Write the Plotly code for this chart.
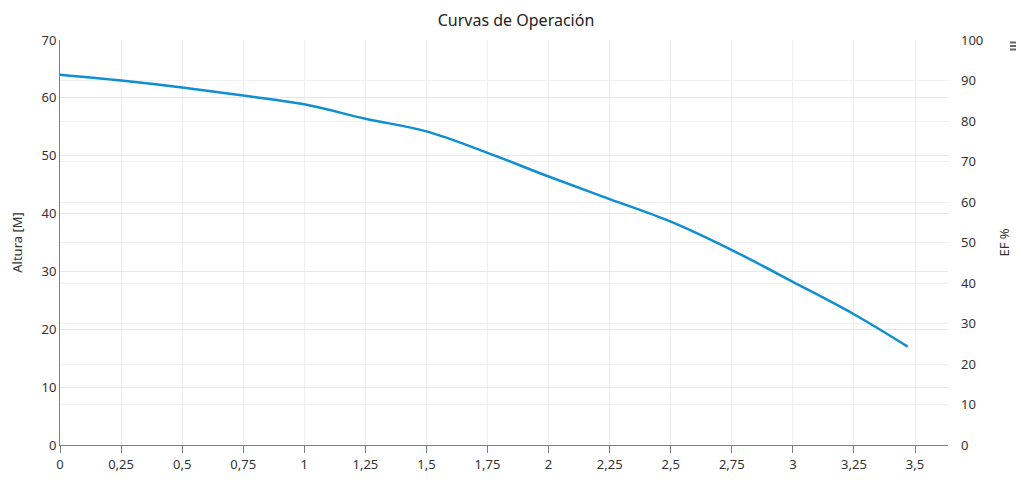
import plotly.graph_objects as go

flow = [0, 0.25, 0.5, 0.75, 1.0, 1.25, 1.5, 1.75, 2.0, 2.25, 2.5, 2.75, 3.0, 3.25, 3.47]
head = [64.0, 63.0, 61.8, 60.4, 58.9, 56.4, 54.2, 50.5, 46.4, 42.5, 38.6, 33.7, 28.2, 22.6, 17.0]

FONT = "Noto Sans, Open Sans, sans-serif"

fig = go.Figure()
fig.add_trace(go.Scatter(x=flow, y=head, mode="lines", line=dict(color="#0f8fd3", width=2.5, shape="spline", smoothing=1.0),
                         showlegend=False, hoverinfo="x+y"))
fig.add_trace(go.Scatter(x=[None], y=[None], yaxis="y2", mode="lines", showlegend=False, hoverinfo="skip"))

# export-menu icon (three short bars), positioned in pixels from the plot's top-right corner
menu_shapes = [
    dict(type="line", xref="paper", yref="paper", xsizemode="pixel", ysizemode="pixel",
         xanchor=1, yanchor=1, x0=62, x1=75, y0=dy, y1=dy, line=dict(color="#666666", width=2))
    for dy in (-2.5, -6, -9.5)
]

fig.update_layout(
    width=1016, height=478,
    margin=dict(l=52, r=76, t=32, b=41, autoexpand=False),
    paper_bgcolor="white", plot_bgcolor="white",
    separators=",.",
    font=dict(family=FONT, size=13, color="#333333"),
    title=dict(text="Curvas de Operación", x=0.5, xanchor="center", yref="container", y=0.974, yanchor="middle",
               font=dict(family=FONT, size=16, color="#222222")),
    xaxis=dict(range=[0, 3.635], tick0=0, dtick=0.25, showgrid=True, gridcolor="#efefef", gridwidth=1,
               showline=True, linecolor="#7f7f7f", linewidth=1, ticks="outside", ticklen=7, tickcolor="#7f7f7f",
               zeroline=False, automargin=False, tickfont=dict(size=13, color="#333333")),
    yaxis=dict(range=[0, 70], dtick=10, showgrid=True, gridcolor="#e8e8e8", showline=True, linecolor="#7f7f7f",
               linewidth=1, zeroline=False, ticks="", automargin=False, tickfont=dict(size=13, color="#333333"),
               title=dict(text="Altura [M]", font=dict(size=13, color="#333333"), standoff=21)),
    yaxis2=dict(range=[0, 100], dtick=10, overlaying="y", side="right", showgrid=True, gridcolor="#f0f0f0",
                showline=False, zeroline=False, ticks="", automargin=False, ticklabelstandoff=12,
                tickfont=dict(size=13, color="#333333"),
                title=dict(text="EF %", font=dict(size=13, color="#333333"), standoff=17)),
    shapes=menu_shapes,
)

fig.write_html("out.html")
